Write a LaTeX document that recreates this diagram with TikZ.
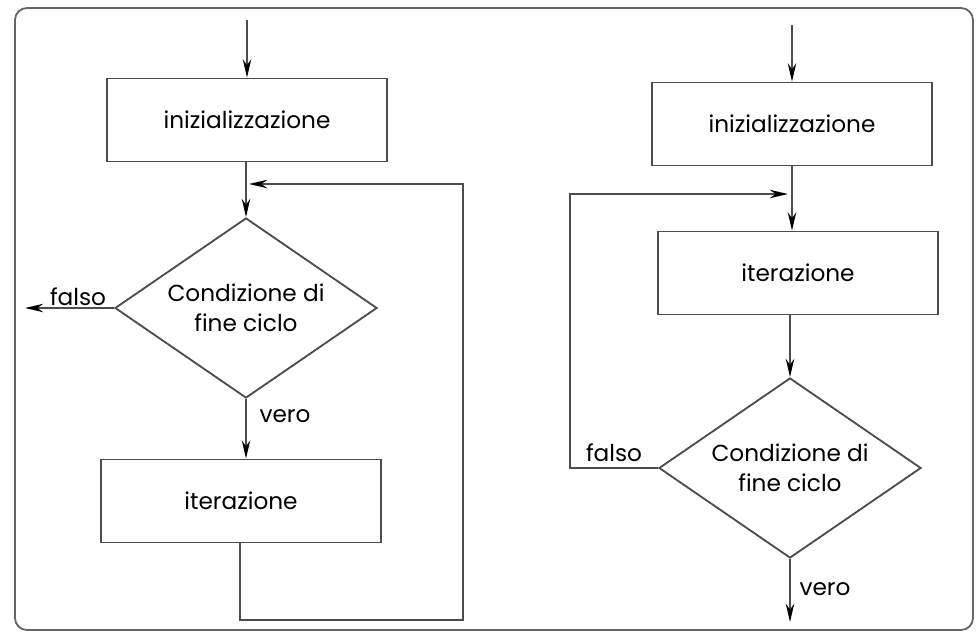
\documentclass[tikz,border=0pt]{standalone}
\usepackage{fontspec}
\setmainfont{Poppins}
\usetikzlibrary{shapes.geometric,arrows.meta}

\begin{document}
\begin{tikzpicture}[
        x = 0.025cm,
        y = -0.025cm,
        >={Stealth[length=13pt,width=6pt,color=black]},
        line width = 1.3pt,
        color = black!70,
        every node/.style={text=black, font=\fontsize{16.5}{21}\selectfont},
        box/.style={draw, rectangle, minimum width=7cm, minimum height=2.075cm},
        cond/.style={draw, diamond, aspect=1.45, inner sep=0pt, minimum width=6.55cm, minimum height=4.5cm, align=center},
        lbl/.style={inner sep=1pt},
        panel/.style={draw=black!60, rounded corners=0.3cm}]

        \useasboundingbox (0,0) rectangle (976,634);
        \draw[panel] (15,8) rectangle (973,630);

        % NODES
        % left chart
        \coordinate (Lin) at (247,20);
        \node[box] (Linit) at (247,120) {inizializzazione};
        \node[cond] (Lcond) at (246,308) {Condizione di\\fine ciclo};
        \node[box] (Liter) at (241,501) {iterazione};
        \coordinate (Lout) at (25,308);
        \coordinate (Lloop) at (463,620);
        \coordinate (Ljoin) at (249,184);
        \node[lbl] (Lfalso) at (78,297) {falso};
        \node[lbl] (Lvero) at (285,416) {vero};

        % right chart
        \coordinate (Rin) at (792,25);
        \node[box] (Rinit) at (792,124) {inizializzazione};
        \node[box] (Riter) at (798,273) {iterazione};
        \node[cond] (Rcond) at (790,468) {Condizione di\\fine ciclo};
        \coordinate (Rloop) at (570,194);
        \coordinate (Rjoin) at (788,194);
        \coordinate (Rout) at (790,622);
        \node[lbl] (Rfalso) at (614,453) {falso};
        \node[lbl] (Rvero) at (825,589) {vero};

        % ARROWS
        % left chart
        \draw[->] (Lin) -- (Linit);
        \draw[->] (Lcond.north |- Linit.south) -- (Lcond.north);
        \draw[->] (Lcond.west) -- (Lout);
        \draw[->] (Lcond.south) -- (Lcond.south |- Liter.north);
        \draw[->] (Liter.south -| Lcond.south) ++(-6,0) |- (Lloop) |- (Ljoin);

        % right chart
        \draw[->] (Rin) -- (Rinit);
        \draw[->] (Rinit.south) -- (Rinit.south |- Riter.north);
        \draw[->] (Rcond.north |- Riter.south) -- (Rcond.north);
        \draw[->] (Rcond.west) -| (Rloop) -- (Rjoin);
        \draw[->] (Rcond.south) -- (Rout);
\end{tikzpicture}
\end{document}
